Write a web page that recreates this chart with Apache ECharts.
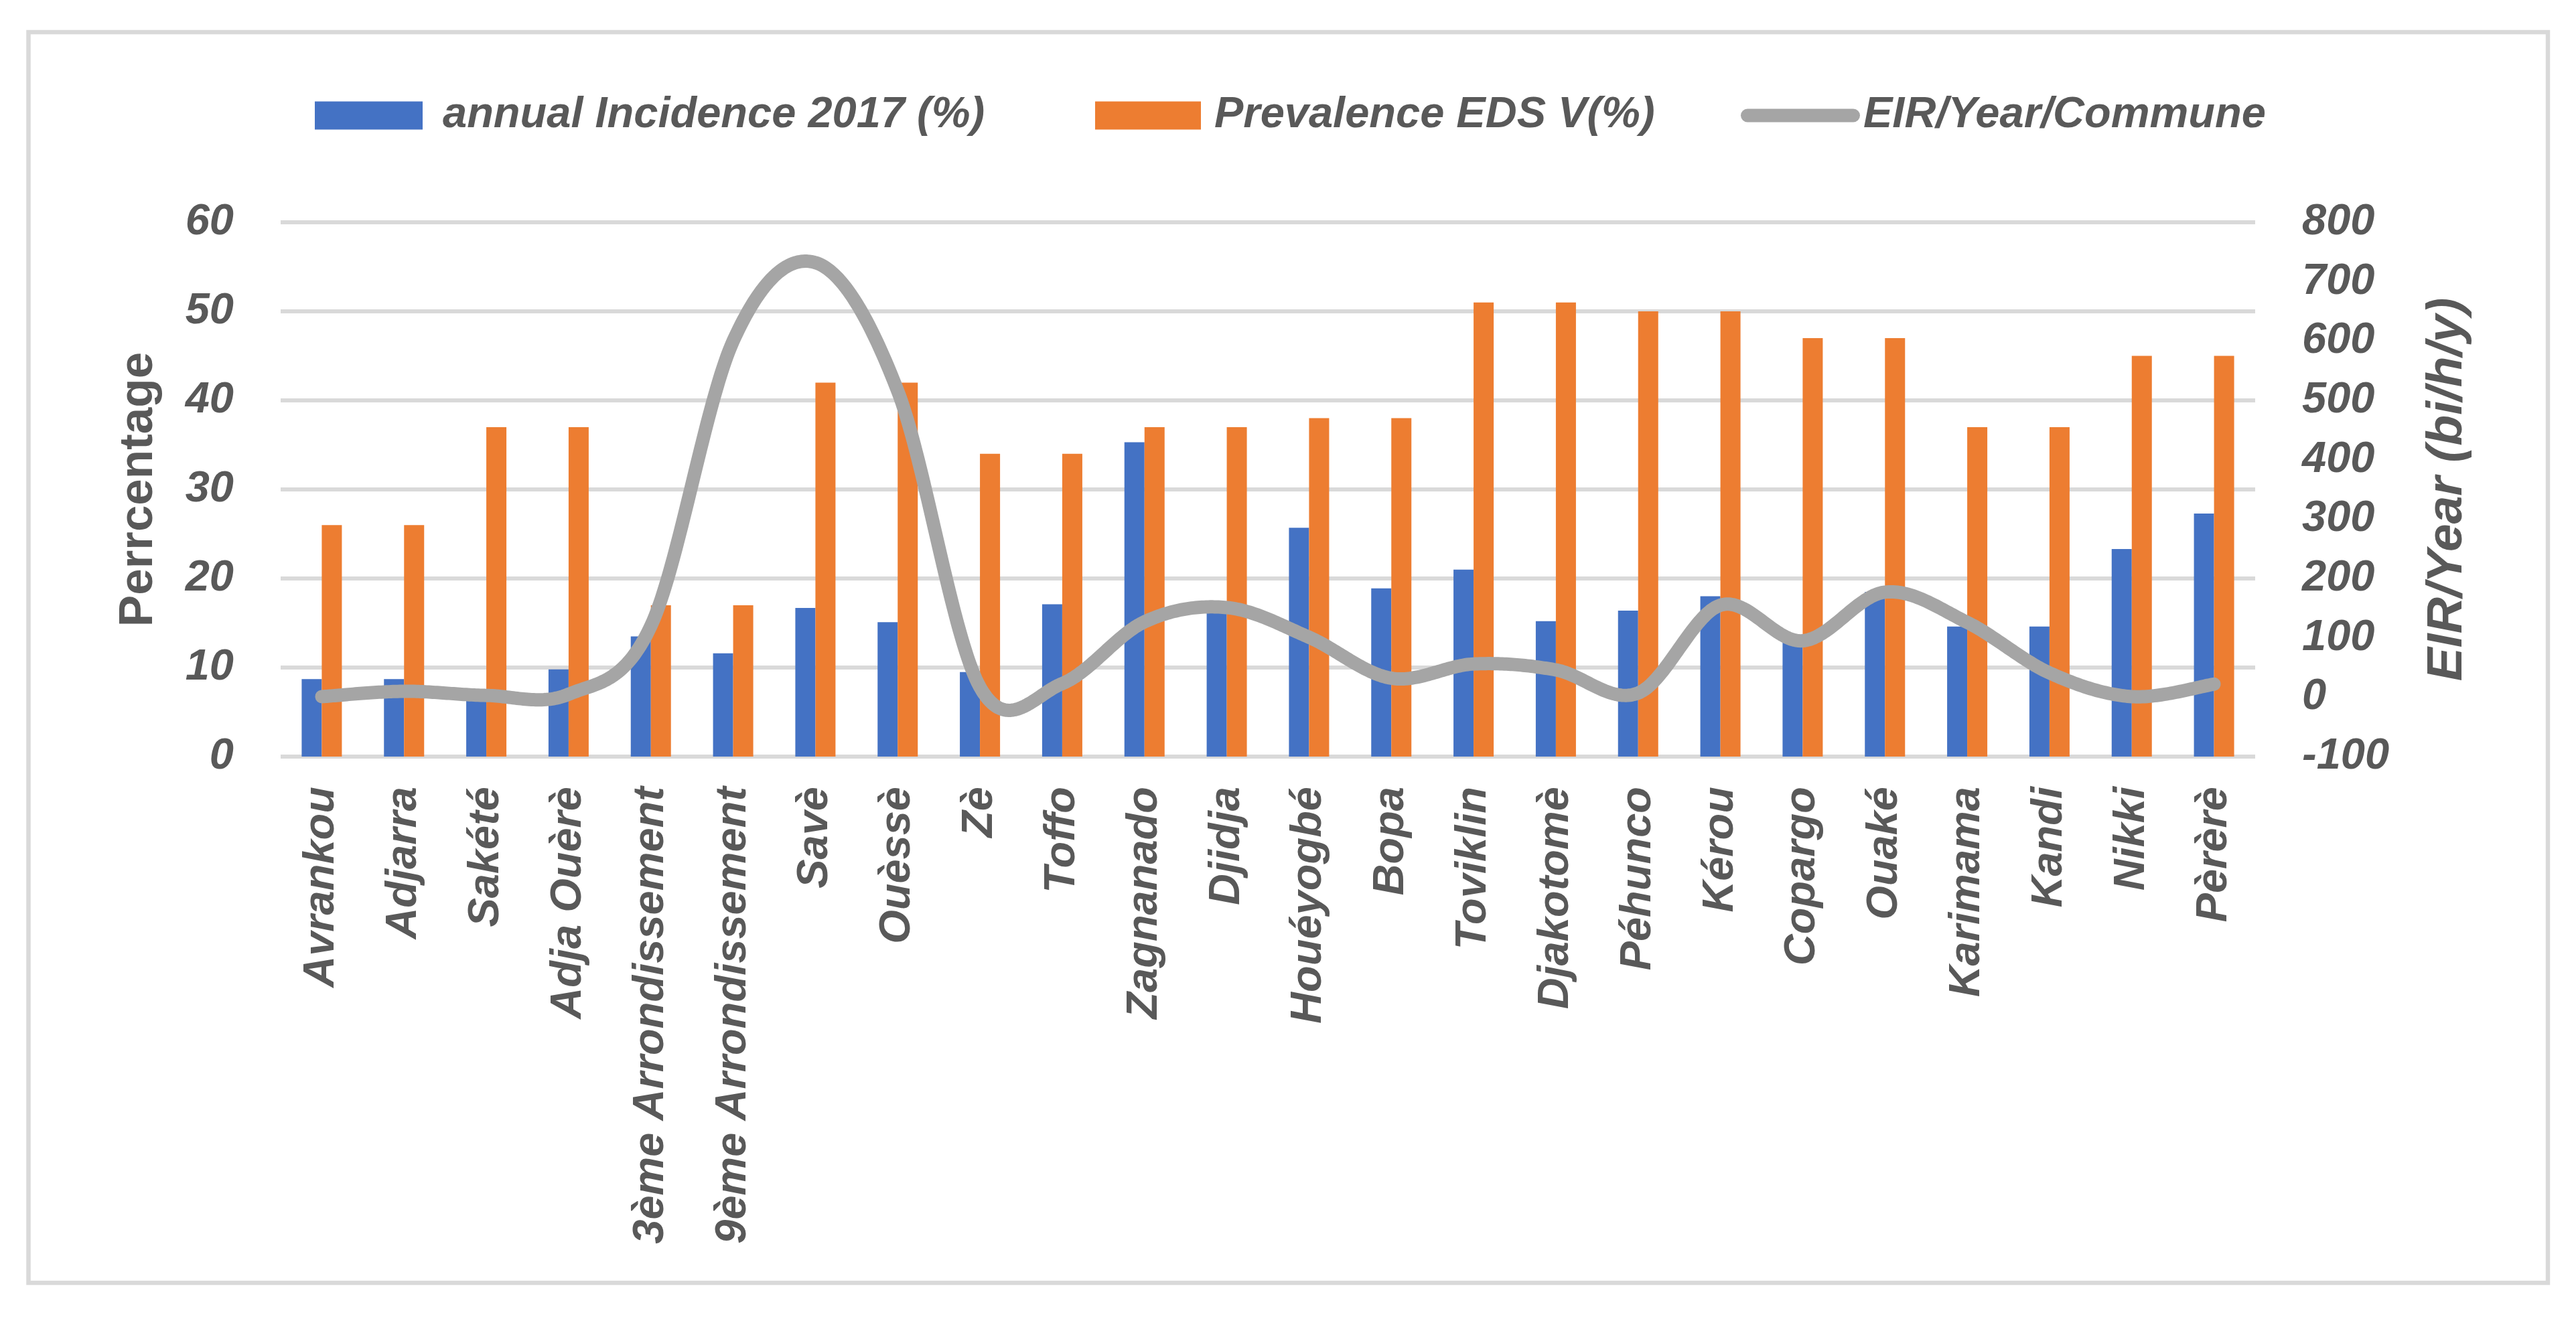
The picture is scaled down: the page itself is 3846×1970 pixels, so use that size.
<!DOCTYPE html>
<html>
<head>
<meta charset="utf-8">
<script src="https://cdn.jsdelivr.net/npm/echarts@6/dist/echarts.min.js"></script>
<style>
html,body{margin:0;padding:0;background:#fff;}
#chart{width:3846px;height:1970px;}
</style>
</head>
<body>
<div id="chart"></div>
<script>
const communes = ['Avrankou','Adjarra','Sakété','Adja Ouèrè','3ème Arrondissement','9ème Arrondissement','Savè','Ouèssè','Zè','Toffo','Zagnanado','Djidja','Houéyogbé','Bopa','Toviklin','Djakotomè','Péhunco','Kérou','Copargo','Ouaké','Karimama','Kandi','Nikki','Pèrèrè'];
const incidence2017 = [8.7,8.7,7.4,9.8,13.5,11.6,16.7,15.1,9.5,17.1,35.3,16.5,25.7,18.9,21.0,15.2,16.4,18.0,13.5,18.5,14.6,14.6,23.3,27.3];
const prevalenceEDSV = [26,26,37,37,17,17,42,42,34,34,37,37,38,38,51,51,50,50,47,47,37,37,45,45];
const eirYear = [1,10,3,5,120,600,732,516,17,23,127,151,101,32,56,46,7,155,95,177,126,41,1,22];

const seriesNames = ['annual Incidence 2017 (%)','Prevalence EDS V(%)','EIR/Year/Commune'];
const FONT = 'Liberation Sans';
const GREY = '#595959';

// Smoothed line (Catmull-Rom style, like spreadsheet "smoothed line"), points mapped through the axes
function renderEIR(params, api) {
  if (params.dataIndex !== 0) return null;
  const P = eirYear.map((v, i) => api.coord([i, v]));
  const pts = [];
  const steps = 40;
  for (let i = 0; i < P.length - 1; i++) {
    const p0 = P[i - 1] || P[i], p1 = P[i], p2 = P[i + 1], p3 = P[i + 2] || P[i + 1];
    const c1 = [p1[0] + (p2[0] - p0[0]) / 6, p1[1] + (p2[1] - p0[1]) / 6];
    const c2 = [p2[0] - (p3[0] - p1[0]) / 6, p2[1] - (p3[1] - p1[1]) / 6];
    for (let s = (i === 0 ? 0 : 1); s <= steps; s++) {
      const t = s / steps, u = 1 - t;
      pts.push([
        u*u*u*p1[0] + 3*u*u*t*c1[0] + 3*u*t*t*c2[0] + t*t*t*p2[0],
        u*u*u*p1[1] + 3*u*u*t*c1[1] + 3*u*t*t*c2[1] + t*t*t*p2[1]
      ]);
    }
  }
  return {
    type: 'polyline',
    shape: {points: pts},
    style: {fill: 'none', stroke: '#A5A5A5', lineWidth: 20, lineCap: 'round', lineJoin: 'round'}
  };
}

const chart = echarts.init(document.getElementById('chart'));
const legendText = {fontFamily: FONT, fontSize: 65, fontWeight: 'bold', fontStyle: 'italic', color: GREY};
chart.setOption({
  backgroundColor: '#fff',
  animation: false,
  graphic: [{
    type: 'rect', silent: true,
    shape: {x: 42.5, y: 48, width: 3761.5, height: 1868},
    style: {fill: 'none', stroke: '#D9D9D9', lineWidth: 6.5}
  }],
  legend: [
    {left: 470, top: 140, padding: 0, itemWidth: 161, itemHeight: 42, icon: 'rect', data: [seriesNames[0]],
     textStyle: Object.assign({padding: [0,0,0,25]}, legendText)},
    {left: 1635, top: 140, padding: 0, itemWidth: 158, itemHeight: 42, icon: 'rect', data: [seriesNames[1]],
     textStyle: Object.assign({padding: [0,0,0,15]}, legendText)},
    {left: 2599, top: 140, padding: 0, itemWidth: 178, itemHeight: 20,
     data: [{name: seriesNames[2], icon: 'path://M10,0 L168,0 A10,10 0 0 1 168,20 L10,20 A10,10 0 0 1 10,0 Z'}],
     textStyle: Object.assign({padding: [0,0,0,0]}, legendText)}
  ],
  grid: {left: 419, right: 479, top: 332, bottom: 840, containLabel: false},
  xAxis: {
    type: 'category', data: communes,
    axisLine: {show: false}, axisTick: {show: false},
    axisLabel: {rotate: 90, interval: 0, margin: 45, fontFamily: FONT, fontSize: 65,
      fontWeight: 'bold', fontStyle: 'italic', color: GREY}
  },
  yAxis: [
    {type: 'value', min: 0, max: 60, interval: 10,
     name: 'Perrcentage', nameLocation: 'middle', nameGap: 176, nameRotate: 90,
     nameTextStyle: {fontFamily: FONT, fontSize: 71, fontWeight: 'bold', color: GREY},
     axisLine: {show: false}, axisTick: {show: false},
     splitLine: {lineStyle: {color: '#D9D9D9', width: 6}},
     axisLabel: {margin: 70, fontFamily: FONT, fontSize: 65, fontWeight: 'bold', fontStyle: 'italic', color: GREY}},
    {type: 'value', min: -100, max: 800, interval: 100, position: 'right',
     name: 'EIR/Year (bi/h/y)', nameLocation: 'middle', nameGap: 250, nameRotate: 90,
     nameTextStyle: {fontFamily: FONT, fontSize: 75, fontWeight: 'bold', fontStyle: 'italic', color: GREY},
     axisLine: {show: false}, axisTick: {show: false}, splitLine: {show: false},
     axisLabel: {margin: 70, fontFamily: FONT, fontSize: 65, fontWeight: 'bold', fontStyle: 'italic', color: GREY}}
  ],
  series: [
    {name: seriesNames[0], type: 'bar', data: incidence2017, barWidth: 30, barGap: '0%',
     itemStyle: {color: '#4472C4'}},
    {name: seriesNames[1], type: 'bar', data: prevalenceEDSV, barWidth: 30, barGap: '0%',
     itemStyle: {color: '#ED7D31'}},
    {name: seriesNames[2], type: 'custom', yAxisIndex: 1, z: 5,
     data: eirYear.map((v, i) => [i, v]),
     encode: {x: 0, y: 1},
     itemStyle: {color: '#A5A5A5'},
     renderItem: renderEIR}
  ]
});
</script>
</body>
</html>
